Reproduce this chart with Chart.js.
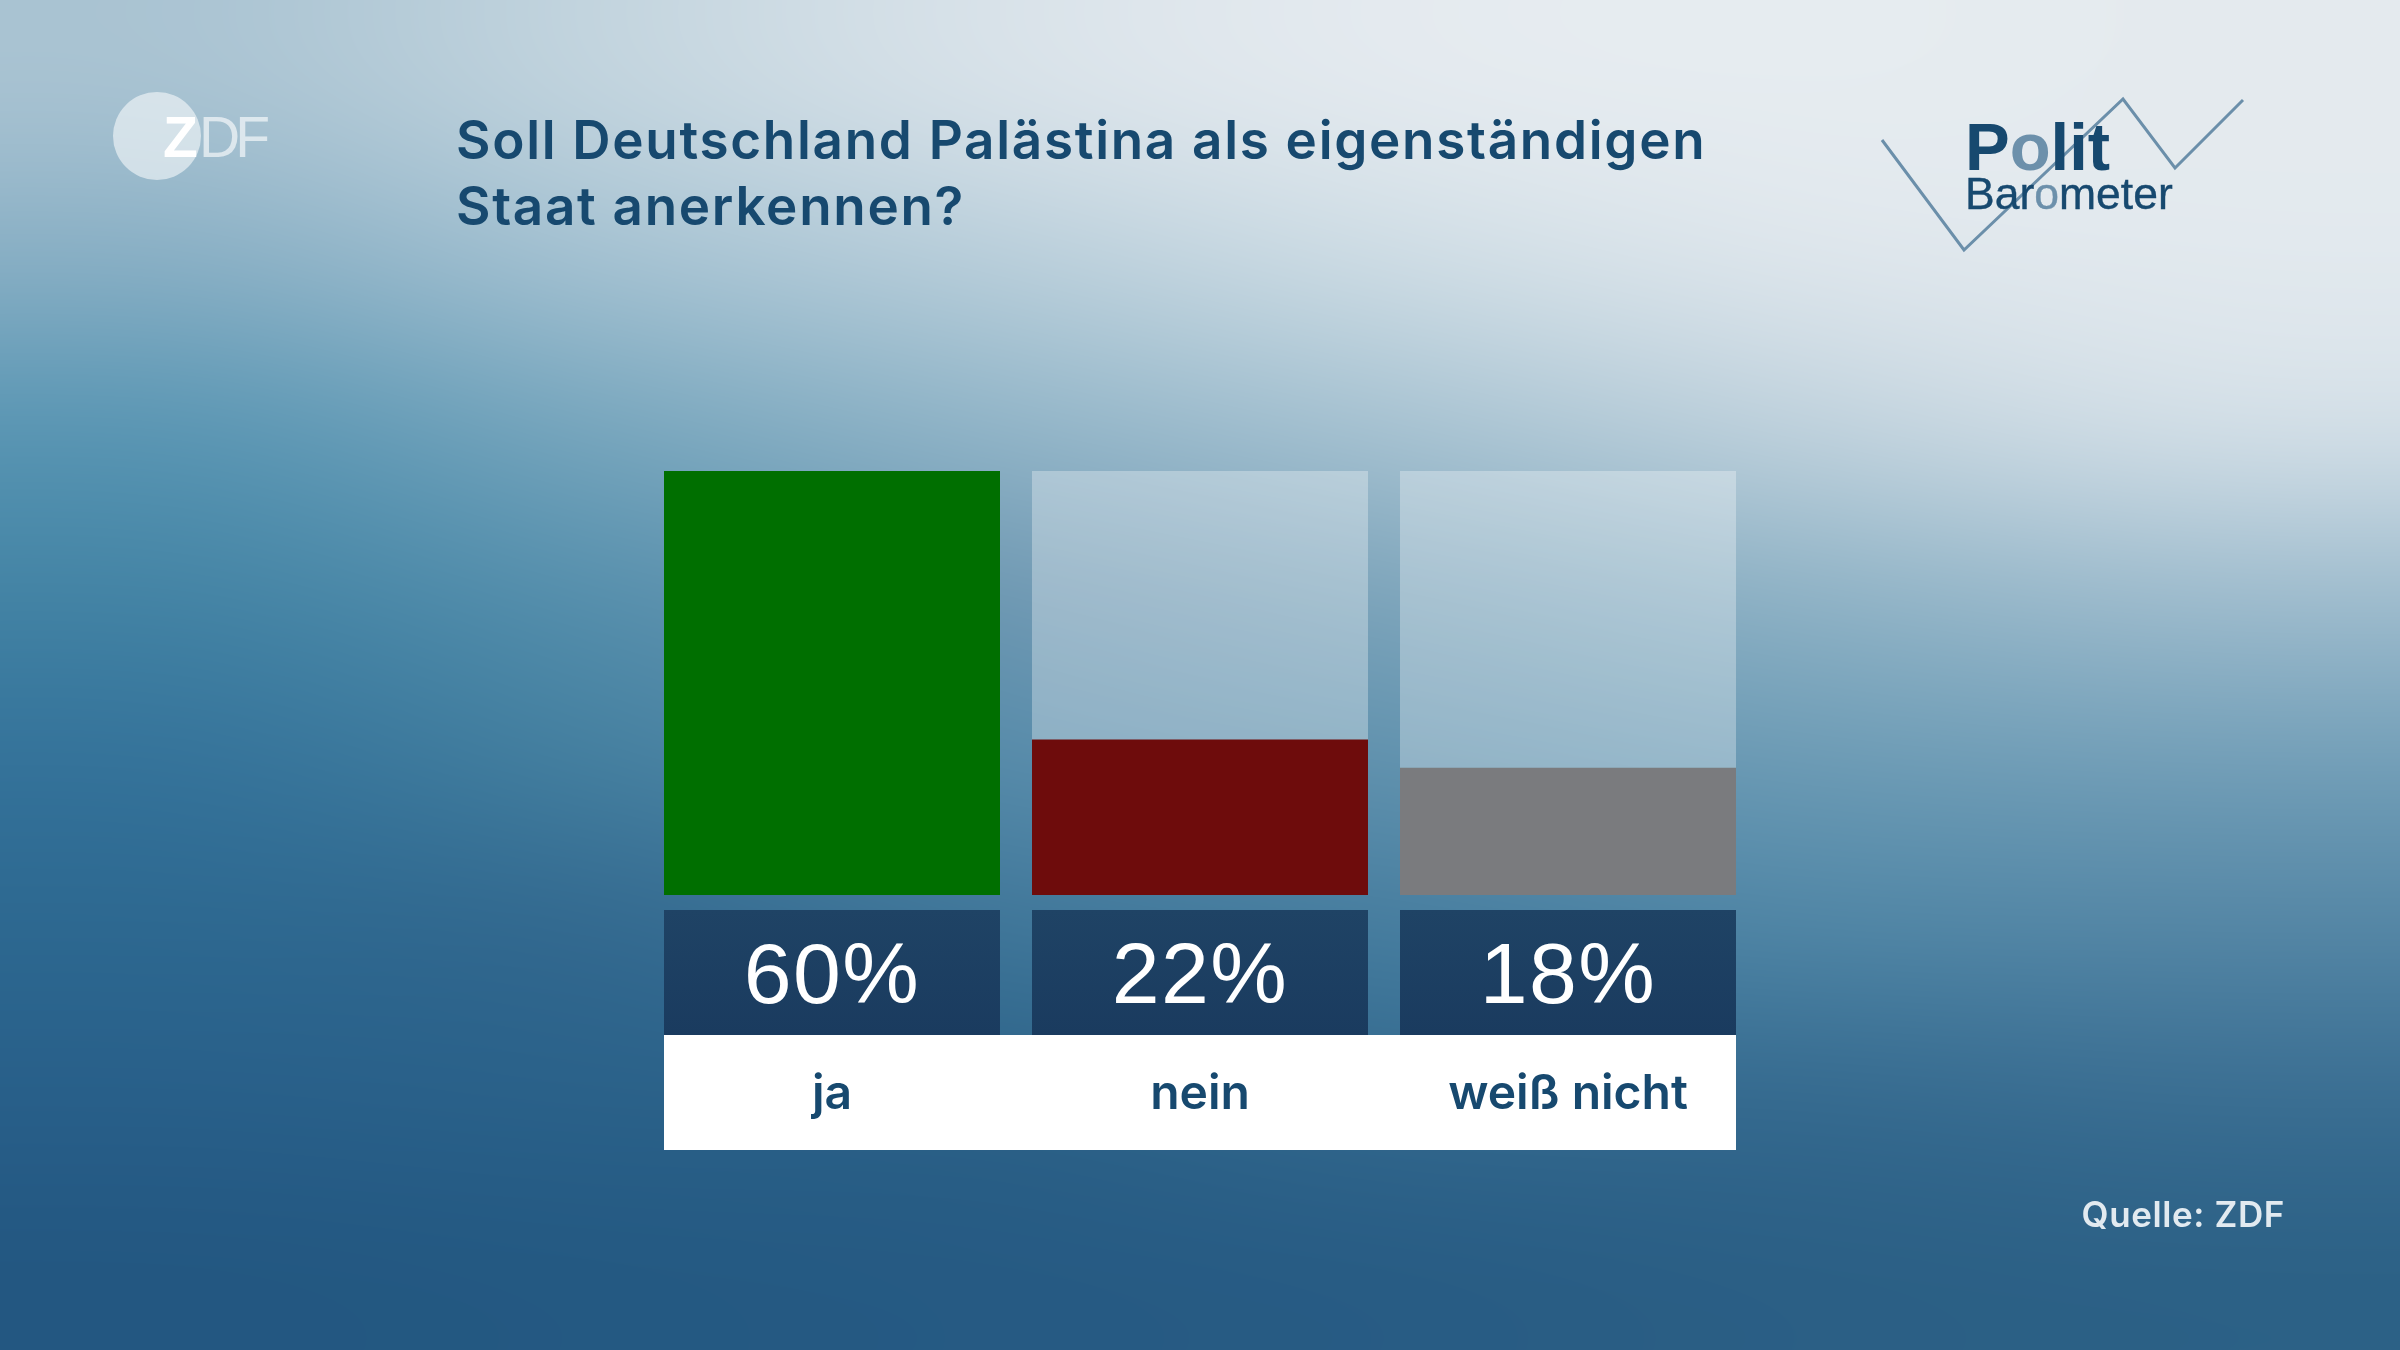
<!DOCTYPE html>
<html lang="de">
<head>
<meta charset="utf-8">
<title>Politbarometer</title>
<script src="https://cdn.jsdelivr.net/npm/chart.js@4"></script>
<style>
  html, body { margin: 0; padding: 0; width: 2400px; height: 1350px; overflow: hidden; background: #2a5f87; }
  canvas { display: block; }
</style>
</head>
<body>
<canvas id="chart" width="2400" height="1350"></canvas>
<script>
const categories = ['ja', 'nein', 'weiß nicht'];
const shares = [60, 22, 18];
const trackValues = [60, 60, 60];
const barColors = ['#006f00', '#6e0c0c', '#7a7b7e'];
const titleLines = ['Soll Deutschland Palästina als eigenständigen', 'Staat anerkennen?'];
const sourceText = 'Quelle: ZDF';

const NAVY = '#17496f';

// soft backdrop, a coarse colour grid that gets scaled up to the full canvas
const backdrop = [
  ['#a9c3d2', '#c2d4de', '#d8e2e9', '#e4eaef', '#e6ecf0', '#e4eaee'],
  ['#8ab0c5', '#a5c2d2', '#bacfdb', '#cfdde5', '#dee6ec', '#e2e9ee'],
  ['#5c97b4', '#79a7be', '#92b5c8', '#a8c3d2', '#c0d2dd', '#d3dfe7'],
  ['#4484a5', '#5790ad', '#7099b3', '#7fa6bc', '#90b3c6', '#a0bdce'],
  ['#35739a', '#447f9f', '#578baa', '#6192ae', '#6c9bb5', '#739fb8'],
  ['#2d6890', '#33698f', '#3f7699', '#467d9f', '#4f85a5', '#5486a5'],
  ['#285f89', '#2a6189', '#2c6288', '#33698e', '#356a8f', '#3a6e92'],
  ['#235781', '#245982', '#265a83', '#285c84', '#2b5f85', '#2c6186']
];

function drawBackdrop(ctx) {
  const small = document.createElement('canvas');
  small.width = backdrop[0].length;
  small.height = backdrop.length;
  const s = small.getContext('2d');
  backdrop.forEach((row, y) => row.forEach((col, x) => {
    s.fillStyle = col;
    s.fillRect(x, y, 1, 1);
  }));
  ctx.imageSmoothingEnabled = true;
  ctx.imageSmoothingQuality = 'high';
  ctx.drawImage(small, 0, 0, 2400, 1350);
}

function drawText(ctx, text, x, y, font, color, align, spacing) {
  ctx.font = font;
  ctx.fillStyle = color;
  ctx.textAlign = align || 'left';
  ctx.textBaseline = 'alphabetic';
  ctx.letterSpacing = spacing || '0px';
  ctx.fillText(text, x, y);
  ctx.letterSpacing = '0px';
}

// panels behind the axis labels, these go under the axis
const panels = {
  id: 'panels',
  beforeDraw(chart) {
    const { ctx, scales: { x } } = chart;
    const half = chart.getDatasetMeta(0).data[0].width / 2;
    ctx.save();
    drawBackdrop(ctx);
    categories.forEach((c, i) => {
      const cx = x.getPixelForValue(i);
      const g = ctx.createLinearGradient(0, 910, 0, 1035);
      g.addColorStop(0, '#1f4365');
      g.addColorStop(1, '#1a3b5f');
      ctx.fillStyle = g;
      ctx.fillRect(cx - half, 910, half * 2, 125);
    });
    const left = x.getPixelForValue(0) - half;
    const right = x.getPixelForValue(categories.length - 1) + half;
    ctx.fillStyle = '#ffffff';
    ctx.fillRect(left, 1035, right - left, 115);
    ctx.restore();
  },
  afterDraw(chart) {
    const { ctx, scales: { x } } = chart;
    ctx.save();
    shares.forEach((v, i) => {
      drawText(ctx, v + '%', x.getPixelForValue(i), 1003, '400 86px "Liberation Sans"', '#ffffff', 'center', '1.5px');
    });

    titleLines.forEach((line, i) => {
      drawText(ctx, line, 456, 159 + i * 66, '600 53px Inter', NAVY, 'left', '1.7px');
    });
    drawText(ctx, sourceText, 2285, 1227, '600 35px Inter', '#e2eaf0', 'right', '0.6px');

    // ZDF logo
    ctx.fillStyle = 'rgba(255,255,255,.55)';
    ctx.beginPath();
    ctx.arc(157, 136, 44, 0, Math.PI * 2);
    ctx.fill();
    drawText(ctx, 'Z', 163, 157, '700 57px "Liberation Sans"', '#ffffff');
    drawText(ctx, 'DF', 199, 157, '400 57px "Liberation Sans"', 'rgba(255,255,255,.62)', 'left', '-5px');

    // Politbarometer logo
    ctx.strokeStyle = '#6b8faa';
    ctx.lineWidth = 3;
    ctx.beginPath();
    ctx.moveTo(1882, 140);
    ctx.lineTo(1964, 250);
    ctx.lineTo(2123, 99);
    ctx.lineTo(2175, 168);
    ctx.lineTo(2243, 100);
    ctx.stroke();
    const bold = '700 67px "Liberation Sans"';
    ctx.font = bold;
    let px = 1965;
    [['P', NAVY], ['o', '#6c90ab'], ['lit', NAVY]].forEach(([s, col]) => {
      drawText(ctx, s, px, 170, bold, col);
      px += ctx.measureText(s).width;
    });
    const thin = '400 44.5px "Liberation Sans"';
    ctx.font = thin;
    px = 1965;
    [['Bar', NAVY], ['o', '#6c90ab'], ['meter', NAVY]].forEach(([s, col]) => {
      drawText(ctx, s, px, 209, thin, col);
      ctx.strokeStyle = col;
      ctx.lineWidth = 0.4;
      ctx.strokeText(s, px, 209);
      px += ctx.measureText(s).width;
    });
    ctx.restore();
  }
};

new Chart(document.getElementById('chart').getContext('2d'), {
  type: 'bar',
  data: {
    labels: categories,
    datasets: [
      { data: shares, backgroundColor: barColors, grouped: false, order: 1 },
      { data: trackValues, backgroundColor: 'rgba(255,255,255,0.31)', grouped: false, order: 2 }
    ]
  },
  options: {
    responsive: false,
    animation: false,
    devicePixelRatio: 1,
    barPercentage: 336 / 368,
    categoryPercentage: 1,
    layout: { padding: { left: 648, right: 648, top: 471, bottom: 0 } },
    scales: {
      x: {
        grid: { display: false, drawTicks: false },
        border: { display: false },
        afterFit(scale) { scale.height = 455; },
        ticks: {
          padding: 171,
          maxRotation: 0,
          autoSkip: false,
          color: NAVY,
          font: { family: 'Inter', size: 48, weight: '600' }
        }
      },
      y: { display: false, min: 0, max: 60 }
    },
    plugins: { legend: { display: false }, tooltip: { enabled: false } }
  },
  plugins: [panels]
});
</script>
</body>
</html>
